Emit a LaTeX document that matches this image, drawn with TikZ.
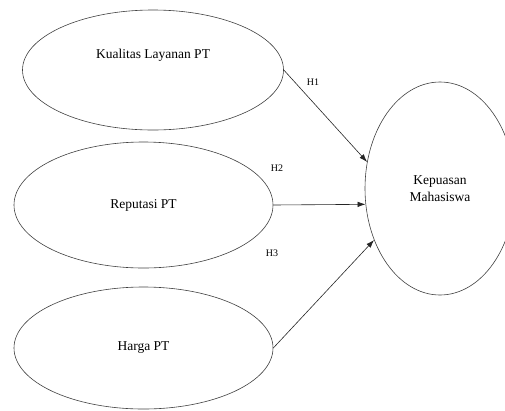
\documentclass[tikz,border=0pt]{standalone}
\usepackage{fontspec}
\setmainfont{Liberation Serif}
\usetikzlibrary{shapes.geometric}
\usepgflibrary{arrows.meta}
\tikzset{
  var/.style={draw=black!75,line width=0.6pt,ellipse,inner sep=0pt,
    font=\fontsize{13.5}{16.5}\selectfont,align=center},
  hyp/.style={font=\fontsize{10}{12}\selectfont},
  jalur/.style={draw=black!85,line width=0.6pt,-{Latex[length=8pt,width=5.5pt]}}
}

\begin{document}
\begin{tikzpicture}[x=1pt,y=-1pt]
        \useasboundingbox (0,0) rectangle (505,410);
        \clip (0,0) rectangle (505,410);
        %变量
        \node [var,minimum width=261pt,minimum height=120pt] (kual) at (153,70) {};
        \node [font=\fontsize{13.5}{16.5}\selectfont] (kualtxt) at ([yshift=15pt]kual.center) {Kualitas Layanan PT};
        \node [var,minimum width=259pt,minimum height=126pt] (rep) at (143.5,205) {Reputasi PT};
        \node [var,minimum width=259pt,minimum height=122pt] (harga) at (143.5,348) {Harga PT};
        \node [var,minimum width=150pt,minimum height=213pt] (kep) at (440,188.5) {Kepuasan\\Mahasiswa};
        %路径
        \draw [jalur] (kual.east) -- (kep.160);
        \draw [jalur] (rep.east) -- (kep.192.5);
        \draw [jalur] (harga.east) -- (kep.218);
        %假设
        \node [hyp] (h1) at (313,82) {H1};
        \node [hyp] (h2) at (277,168) {H2};
        \node [hyp] (h3) at (272,253) {H3};
    \end{tikzpicture}
\end{document}
